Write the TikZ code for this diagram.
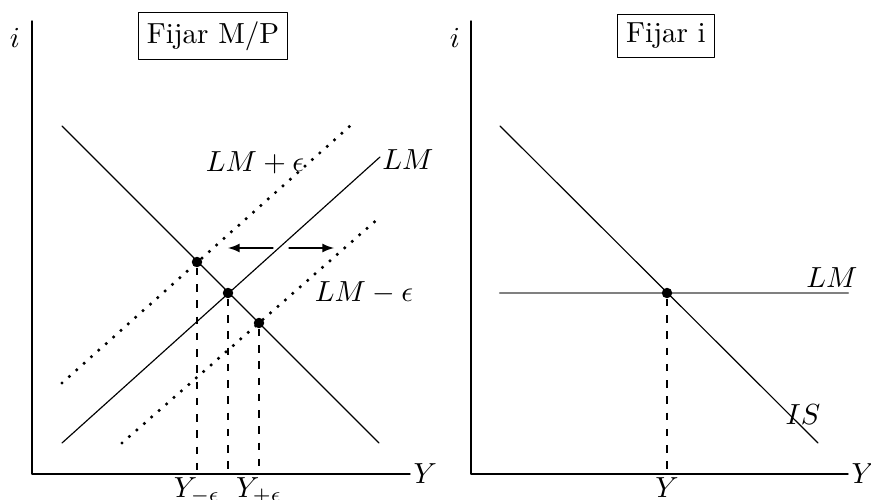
\documentclass[tikz,border=0pt]{standalone}
\usetikzlibrary{arrows}
\begin{document}
\begin{tikzpicture}[line cap=round,line join=round,>=latex,x=0.3444pt,y=-0.3444pt,
	eje/.style={line width=0.5pt},
	curva/.style={line width=0.4pt},
	punteado/.style={line width=1.2pt,dash pattern=on 0pt off 3.4pt},
	guia/.style={line cap=butt,line width=0.35pt,dash pattern=on 2.6pt off 3pt},
	punto/.style={circle,fill=black,inner sep=0pt,minimum size=3.6pt},
	titulo/.style={draw,line width=0.4pt,inner sep=3pt},
	etiq/.style={inner sep=1pt}]
		\useasboundingbox (0,0) rectangle (871,500);
		% Panel izquierdo: ejes
		\coordinate (A1) at (32,21);
		\coordinate (O1) at (32,474);
		\coordinate (B1) at (410,474);
		\draw[eje] (A1)--(O1)--(B1) node[etiq,right]{$Y$};
		\node (i1) at (15,38) {$i$};
		\node[titulo] (t1) at (213,36) {Fijar M/P};
		% curvas IS y LM
		\draw[curva] (62,126)--(379,443);
		\draw[curva] (62,443)--(380,157);
		\node (lm) at (408,160) {$LM$};
		% LM desplazadas
		\draw[punteado] (62,383)--(350,126);
		\node (lmmas) at (255,163) {$LM+\epsilon$};
		\draw[punteado] (122,443)--(380,217);
		\node (lmmenos) at (364,293) {$LM-\epsilon$};
		% flechas
		\coordinate (f0) at (273,248);
		\coordinate (f1) at (228,248);
		\coordinate (f2) at (289,248);
		\coordinate (f3) at (334,248);
		\draw[->] (f0)--(f1);
		\draw[->] (f2)--(f3);
		% equilibrios
		\node[punto] (Em) at (197,262) {};
		\node[punto] (E0) at (228,293) {};
		\node[punto] (Ep) at (259,323) {};
		\draw[guia] (Em)--(Em |- O1) node[etiq,below]{$Y_{-\epsilon}$};
		\draw[guia] (E0)--(E0 |- O1);
		\draw[guia] (Ep)--(Ep |- O1) node[etiq,below]{$Y_{+\epsilon}$};
		% Panel derecho: ejes
		\coordinate (A2) at (471,21);
		\coordinate (O2) at (471,474);
		\coordinate (B2) at (848,474);
		\draw[eje] (A2)--(O2)--(B2) node[etiq,right]{$Y$};
		\node (i2) at (455,38) {$i$};
		\node[titulo] (t2) at (666,36) {Fijar i};
		% IS y LM horizontal
		\draw[curva] (500,126)--(818,443);
		\node (is) at (803,415) {$IS$};
		\draw[line width=0.8pt,gray] (500,293)--(848,293);
		\node (lm2) at (832,278) {$LM$};
		\node[punto] (E2) at (667,293) {};
		\draw[guia] (E2)--(E2 |- O2) node[etiq,below]{$Y$};
\end{tikzpicture}
\end{document}
